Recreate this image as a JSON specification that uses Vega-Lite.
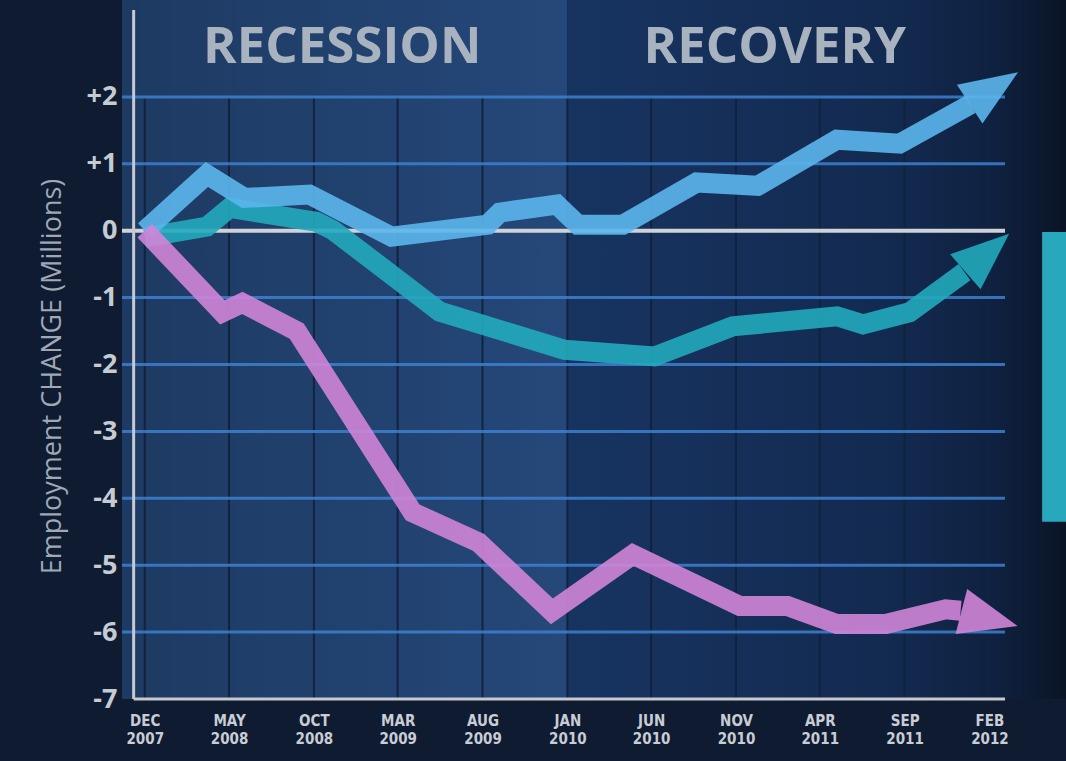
{
  "$schema": "https://vega.github.io/schema/vega-lite/v6.json",
  "width": 944,
  "height": 699,
  "autosize": {"type": "none"},
  "padding": {"left": 122, "top": 0, "right": 0, "bottom": 62},
  "background": "#0f1b31",
  "config": {"view": {"stroke": null}},
  "data": {"values": [{}]},
  "datasets": {
    "periods": [
      {"period": "RECESSION", "start": "2007-10-21", "end": "2010-01-01", "mid": "2008-11-21"},
      {"period": "RECOVERY", "start": "2010-01-01", "end": "2012-06-18", "mid": "2011-01-10"}
    ],
    "ticks": [
      {"date": "2007-12-01"}, {"date": "2008-05-01"}, {"date": "2008-10-01"}, {"date": "2009-03-01"},
      {"date": "2009-08-01"}, {"date": "2010-01-01"}, {"date": "2010-06-01"}, {"date": "2010-11-01"},
      {"date": "2011-04-01"}, {"date": "2011-09-01"}, {"date": "2012-02-01"}
    ],
    "levels": [{"v": 2}, {"v": 1}, {"v": -1}, {"v": -2}, {"v": -3}, {"v": -4}, {"v": -5}, {"v": -6}],
    "jobs": [
      {"series": "Associate's degree or some college", "date": "2007-12-01", "value": -0.1},
      {"series": "Associate's degree or some college", "date": "2008-03-22", "value": 0.06},
      {"series": "Associate's degree or some college", "date": "2008-05-02", "value": 0.34},
      {"series": "Associate's degree or some college", "date": "2008-10-06", "value": 0.13},
      {"series": "Associate's degree or some college", "date": "2008-11-04", "value": 0.01},
      {"series": "Associate's degree or some college", "date": "2009-05-16", "value": -1.21},
      {"series": "Associate's degree or some college", "date": "2009-12-27", "value": -1.78},
      {"series": "Associate's degree or some college", "date": "2010-06-07", "value": -1.88},
      {"series": "Associate's degree or some college", "date": "2010-10-26", "value": -1.43},
      {"series": "Associate's degree or some college", "date": "2011-05-02", "value": -1.28},
      {"series": "Associate's degree or some college", "date": "2011-06-18", "value": -1.40},
      {"series": "Associate's degree or some college", "date": "2011-09-10", "value": -1.22},
      {"series": "Associate's degree or some college", "date": "2011-12-18", "value": -0.62},
      {"series": "Bachelor's degree or better", "date": "2007-12-01", "value": 0.0},
      {"series": "Bachelor's degree or better", "date": "2008-03-22", "value": 0.84},
      {"series": "Bachelor's degree or better", "date": "2008-05-29", "value": 0.49},
      {"series": "Bachelor's degree or better", "date": "2008-09-23", "value": 0.54},
      {"series": "Bachelor's degree or better", "date": "2009-02-18", "value": -0.09},
      {"series": "Bachelor's degree or better", "date": "2009-08-10", "value": 0.09},
      {"series": "Bachelor's degree or better", "date": "2009-09-01", "value": 0.27},
      {"series": "Bachelor's degree or better", "date": "2009-12-13", "value": 0.39},
      {"series": "Bachelor's degree or better", "date": "2010-01-20", "value": 0.09},
      {"series": "Bachelor's degree or better", "date": "2010-04-11", "value": 0.09},
      {"series": "Bachelor's degree or better", "date": "2010-08-22", "value": 0.72},
      {"series": "Bachelor's degree or better", "date": "2010-12-10", "value": 0.67},
      {"series": "Bachelor's degree or better", "date": "2011-05-02", "value": 1.36},
      {"series": "Bachelor's degree or better", "date": "2011-08-23", "value": 1.30},
      {"series": "Bachelor's degree or better", "date": "2011-12-29", "value": 1.89},
      {"series": "High school diploma or less", "date": "2007-12-01", "value": 0.0},
      {"series": "High school diploma or less", "date": "2008-04-19", "value": -1.22},
      {"series": "High school diploma or less", "date": "2008-05-25", "value": -1.08},
      {"series": "High school diploma or less", "date": "2008-08-31", "value": -1.50},
      {"series": "High school diploma or less", "date": "2009-03-28", "value": -4.21},
      {"series": "High school diploma or less", "date": "2009-07-25", "value": -4.66},
      {"series": "High school diploma or less", "date": "2009-12-04", "value": -5.69},
      {"series": "High school diploma or less", "date": "2010-04-29", "value": -4.84},
      {"series": "High school diploma or less", "date": "2010-11-08", "value": -5.61},
      {"series": "High school diploma or less", "date": "2011-02-02", "value": -5.61},
      {"series": "High school diploma or less", "date": "2011-05-02", "value": -5.88},
      {"series": "High school diploma or less", "date": "2011-07-29", "value": -5.88},
      {"series": "High school diploma or less", "date": "2011-11-14", "value": -5.66},
      {"series": "High school diploma or less", "date": "2011-12-11", "value": -5.68}
    ],
    "heads": [
      {"series": "Bachelor's degree or better", "date": "2012-02-09", "value": 2.13},
      {"series": "Associate's degree or some college", "date": "2012-01-28", "value": -0.33},
      {"series": "High school diploma or less", "date": "2012-02-01", "value": -5.8}
    ]
  },
  "layer": [
    {
      "data": {"name": "periods"},
      "transform": [{"filter": "datum.period == 'RECESSION'"}],
      "mark": {"type": "rect", "fill": {"gradient": "linear", "x1": 0, "y1": 0, "x2": 1, "y2": 0, "stops": [{"offset": 0, "color": "#1d3a62"}, {"offset": 1, "color": "#25487a"}]}},
      "encoding": {
        "x": {
          "field": "start", "type": "temporal",
          "scale": {"type": "utc", "domain": [{"year": 2007, "month": 10, "date": 21, "utc": true}, {"year": 2012, "month": 6, "date": 18, "utc": true}], "nice": false},
          "axis": {
            "values": [
              {"year": 2007, "month": 12, "date": 1, "utc": true}, {"year": 2008, "month": 5, "date": 1, "utc": true},
              {"year": 2008, "month": 10, "date": 1, "utc": true}, {"year": 2009, "month": 3, "date": 1, "utc": true},
              {"year": 2009, "month": 8, "date": 1, "utc": true}, {"year": 2010, "month": 1, "date": 1, "utc": true},
              {"year": 2010, "month": 6, "date": 1, "utc": true}, {"year": 2010, "month": 11, "date": 1, "utc": true},
              {"year": 2011, "month": 4, "date": 1, "utc": true}, {"year": 2011, "month": 9, "date": 1, "utc": true},
              {"year": 2012, "month": 2, "date": 1, "utc": true}
            ],
            "labelExpr": "[upper(utcFormat(datum.value, '%b')), utcFormat(datum.value, '%Y')]",
            "labelFont": "Liberation Sans Narrow, DejaVu Sans Condensed, Roboto Condensed, sans-serif",
            "labelFontWeight": "bold",
            "labelFontSize": 15,
            "labelLineHeight": 18,
            "labelColor": "#c8cdd5",
            "labelPadding": 14,
            "labelAngle": 0,
            "labelBaseline": "top",
            "labelFlush": false,
            "labelOverlap": false,
            "ticks": false,
            "tickSize": 0,
            "domain": false,
            "grid": false,
            "title": null
          }
        },
        "x2": {"field": "end"},
        "y": {
          "datum": -7,
          "scale": {"domain": [-7, 3.448], "nice": false, "zero": false},
          "axis": {
            "values": [-7, -6, -5, -4, -3, -2, -1, 0, 1, 2],
            "labelExpr": "datum.value > 0 ? '+' + datum.value : '' + datum.value",
            "labelFont": "Open Sans",
            "labelFontWeight": "bold",
            "labelFontSize": 27,
            "labelColor": "#c5cbd3",
            "labelPadding": 5,
            "labelOverlap": false,
            "ticks": false,
            "tickSize": 0,
            "domain": false,
            "grid": false,
            "title": "Employment CHANGE (Millions)",
            "titleFont": "Open Sans",
            "titleFontSize": 27,
            "titleFontWeight": "normal",
            "titleColor": "#9ea8b6",
            "titleAngle": 270,
            "titleX": -62,
            "titleY": 376,
            "titleAlign": "center",
            "titleBaseline": "alphabetic"
          }
        },
        "y2": {"datum": 3.448}
      }
    },
    {
      "data": {"name": "periods"},
      "transform": [{"filter": "datum.period == 'RECOVERY'"}],
      "mark": {"type": "rect", "fill": {"gradient": "linear", "x1": 0, "y1": 0, "x2": 1, "y2": 0, "stops": [{"offset": 0, "color": "#173461"}, {"offset": 0.65, "color": "#132a50"}, {"offset": 0.86, "color": "#0f2140"}, {"offset": 1, "color": "#0a1426"}]}},
      "encoding": {
        "x": {"field": "start", "type": "temporal"},
        "x2": {"field": "end"},
        "y": {"datum": -7},
        "y2": {"datum": 3.448}
      }
    },
    {
      "mark": {"type": "rect", "color": "#27a8bc"},
      "encoding": {
        "x": {"datum": {"year": 2012, "month": 5, "date": 6, "utc": true}},
        "x2": {"datum": {"year": 2012, "month": 6, "date": 18, "utc": true}},
        "y": {"datum": -0.02},
        "y2": {"datum": -4.35}
      }
    },
    {
      "data": {"name": "ticks"},
      "mark": {"type": "rule", "color": "#11233f", "strokeWidth": 2},
      "encoding": {
        "x": {"field": "date", "type": "temporal"},
        "y": {"datum": -7},
        "y2": {"datum": 2}
      }
    },
    {
      "data": {"name": "levels"},
      "mark": {"type": "rule", "color": "#3d80cf", "strokeWidth": 3, "opacity": 0.85},
      "encoding": {
        "y": {"field": "v", "type": "quantitative"},
        "x": {"datum": {"year": 2007, "month": 10, "date": 21, "utc": true}},
        "x2": {"datum": {"year": 2012, "month": 2, "date": 29, "utc": true}}
      }
    },
    {
      "mark": {"type": "rule", "color": "#cfd2d7", "strokeWidth": 4},
      "encoding": {
        "y": {"datum": 0},
        "x": {"datum": {"year": 2007, "month": 10, "date": 21, "utc": true}},
        "x2": {"datum": {"year": 2012, "month": 2, "date": 29, "utc": true}}
      }
    },
    {
      "mark": {"type": "rule", "color": "#c6cad0", "strokeWidth": 3},
      "encoding": {
        "x": {"datum": {"year": 2007, "month": 11, "date": 11, "utc": true}},
        "y": {"datum": -7},
        "y2": {"datum": 3.3}
      }
    },
    {
      "mark": {"type": "rule", "color": "#c6cad0", "strokeWidth": 3},
      "encoding": {
        "y": {"datum": -7},
        "x": {"datum": {"year": 2007, "month": 11, "date": 11, "utc": true}},
        "x2": {"datum": {"year": 2012, "month": 2, "date": 29, "utc": true}}
      }
    },
    {
      "data": {"name": "periods"},
      "mark": {"type": "text", "font": "Open Sans", "fontWeight": "bold", "fontSize": 51, "color": "#a9b3c0", "align": "center", "baseline": "alphabetic"},
      "encoding": {
        "x": {"field": "mid", "type": "temporal"},
        "y": {"datum": 2.5},
        "text": {"field": "period"}
      }
    },
    {
      "data": {"name": "jobs"},
      "mark": {"type": "line", "strokeWidth": 20, "strokeJoin": "miter", "strokeMiterLimit": 10, "strokeCap": "butt", "opacity": 0.9},
      "encoding": {
        "x": {"field": "date", "type": "temporal"},
        "y": {"field": "value", "type": "quantitative"},
        "color": {
          "field": "series", "type": "nominal", "legend": null,
          "scale": {
            "domain": ["Bachelor's degree or better", "Associate's degree or some college", "High school diploma or less"],
            "range": ["#5bb6ec", "#22aabd", "#d085d7"]
          }
        },
        "order": {"field": "date", "type": "temporal"}
      }
    },
    {
      "data": {"name": "heads"},
      "transform": [{"filter": "datum.series == \"Bachelor's degree or better\""}],
      "mark": {"type": "point", "shape": "M1,0L-1,-0.8L-1,0.8Z", "filled": true, "size": 3364, "opacity": 0.9, "strokeWidth": 0, "angle": 326.6},
      "encoding": {
        "x": {"field": "date", "type": "temporal"},
        "y": {"field": "value", "type": "quantitative"},
        "color": {"field": "series", "type": "nominal", "legend": null}
      }
    },
    {
      "data": {"name": "heads"},
      "transform": [{"filter": "datum.series == \"Associate's degree or some college\""}],
      "mark": {"type": "point", "shape": "M1,0L-1,-0.8L-1,0.8Z", "filled": true, "size": 3364, "opacity": 0.9, "strokeWidth": 0, "angle": 319},
      "encoding": {
        "x": {"field": "date", "type": "temporal"},
        "y": {"field": "value", "type": "quantitative"},
        "color": {"field": "series", "type": "nominal", "legend": null}
      }
    },
    {
      "data": {"name": "heads"},
      "transform": [{"filter": "datum.series == \"High school diploma or less\""}],
      "mark": {"type": "point", "shape": "M1,0L-1,-0.8L-1,0.8Z", "filled": true, "size": 3364, "opacity": 0.9, "strokeWidth": 0, "angle": 14.5},
      "encoding": {
        "x": {"field": "date", "type": "temporal"},
        "y": {"field": "value", "type": "quantitative"},
        "color": {"field": "series", "type": "nominal", "legend": null}
      }
    }
  ]
}
